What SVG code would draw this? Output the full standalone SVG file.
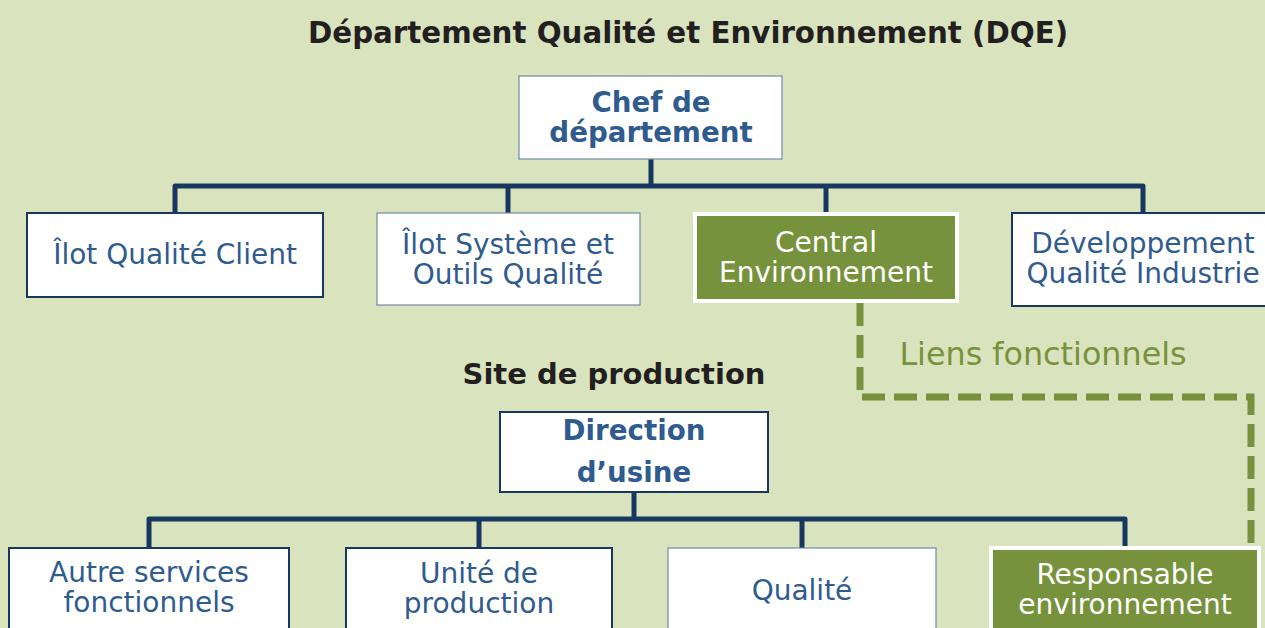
<svg xmlns="http://www.w3.org/2000/svg" width="1265" height="628" viewBox="0 0 1265 628">
<style>
.t{font-family:"DejaVu Sans",Verdana,sans-serif;text-anchor:middle}
.h{font-weight:bold;fill:#231f20}
.b{fill:#2f5b8f;font-size:28px}
.bb{fill:#2f5b8f;font-size:27.7px;font-weight:bold}
.w{fill:#ffffff;font-size:28px}
.box{fill:#ffffff;stroke:#17375e;stroke-width:2}
.boxl{fill:#ffffff;stroke:#6f8aa5;stroke-width:1.2}
.gbox{fill:#77923c;stroke:#ffffff;stroke-width:4}
.ln{fill:none;stroke:#17375e;stroke-width:5;stroke-linejoin:round}
.dash{fill:none;stroke:#77923c;stroke-width:7;stroke-dasharray:23 9}
</style>
<rect x="0" y="0" width="1265" height="628" fill="#d9e4bf"/>
<text class="t h" x="688" y="43" style="font-size:29.3px">Département Qualité et Environnement (DQE)</text>
<text class="t h" x="614" y="384" style="font-size:29px">Site de production</text>
<g id="connectors">
<path class="ln" d="M651 159V186M175 213V186H1143V213M508 186V213M826 186V212"/>
<path class="ln" d="M634 492V519M149 548V519H1125V548M479 519V548M802 519V548"/>
<path class="dash" d="M860 303V397H1251V548"/>
</g>
<text class="t" x="1043" y="365" style="fill:#77923c;font-size:31.8px">Liens fonctionnels</text>
<g id="chef">
<rect class="boxl" x="519" y="76" width="263" height="83"/>
<text class="t bb" x="651" y="112"><tspan x="651">Chef de</tspan><tspan x="651" dy="30">département</tspan></text>
</g>
<g id="ilot-client">
<rect class="box" x="27" y="213" width="296" height="84"/>
<text class="t b" x="175" y="264">Îlot Qualité Client</text>
</g>
<g id="ilot-systeme">
<rect class="boxl" x="377" y="213" width="263" height="92"/>
<text class="t b" x="508" y="253.5"><tspan x="508">Îlot Système et</tspan><tspan x="508" dy="30">Outils Qualité</tspan></text>
</g>
<g id="central-env">
<rect class="gbox" x="695" y="214" width="262" height="87"/>
<text class="t w" x="826" y="251.5"><tspan x="826">Central</tspan><tspan x="826" dy="30">Environnement</tspan></text>
</g>
<g id="dev-qualite">
<rect class="box" x="1012" y="213" width="270" height="93"/>
<text class="t b" x="1143" y="253"><tspan x="1143">Développement</tspan><tspan x="1143" dy="30">Qualité Industrie</tspan></text>
</g>
<g id="direction">
<rect class="box" x="500" y="412" width="268" height="80"/>
<text class="t bb" x="634" y="440"><tspan x="634">Direction</tspan><tspan x="634" dy="42">d’usine</tspan></text>
</g>
<g id="autres">
<rect class="box" x="9" y="548" width="280" height="100"/>
<text class="t b" x="149" y="582"><tspan x="149">Autre services</tspan><tspan x="149" dy="30">fonctionnels</tspan></text>
</g>
<g id="unite">
<rect class="box" x="346" y="548" width="266" height="100"/>
<text class="t b" x="479" y="583"><tspan x="479">Unité de</tspan><tspan x="479" dy="30">production</tspan></text>
</g>
<g id="qualite">
<rect class="boxl" x="668" y="548" width="268" height="100"/>
<text class="t b" x="802" y="600">Qualité</text>
</g>
<g id="resp-env">
<rect class="gbox" x="991" y="548" width="268" height="100"/>
<text class="t w" x="1125" y="583.5"><tspan x="1125">Responsable</tspan><tspan x="1125" dy="30">environnement</tspan></text>
</g>
</svg>
